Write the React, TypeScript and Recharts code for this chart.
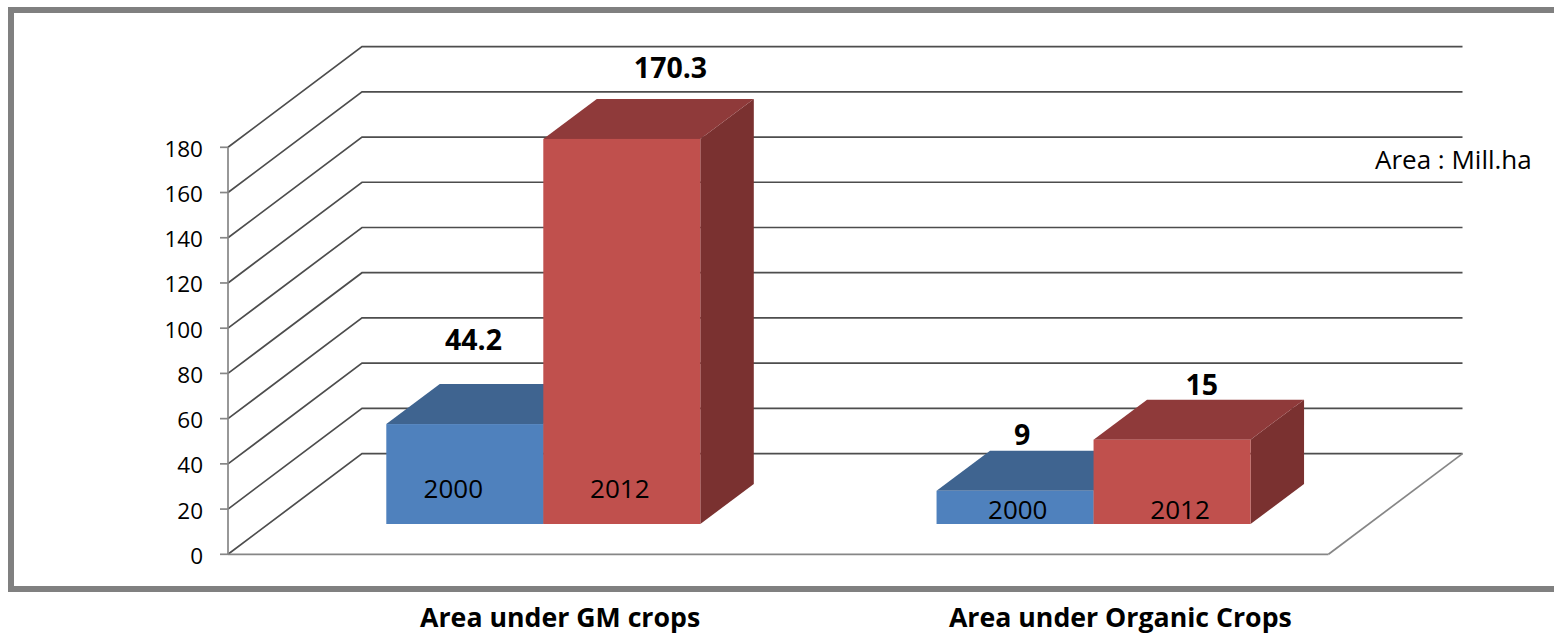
import React from "react";
import { BarChart, Bar, XAxis, YAxis, CartesianGrid, LabelList } from "recharts";

// Data. Heights are what the drawn bars measure on the axis;
// printed values are the labels written beside them in the reference.
const categories = ["Area under GM crops", "Area under Organic Crops"];
const height2000 = [44.2, 14.7];
const height2012 = [170.3, 37.3];
const printed2000 = ["44.2", "9"];
const printed2012 = ["170.3", "15"];
const yearLabel2000 = "2000";
const yearLabel2012 = "2012";
const yTicks = [0, 20, 40, 60, 80, 100, 120, 140, 160, 180];
const unitNote = "Area : Mill.ha";

const rows = categories.map((name, i) => ({
  name,
  y2000: height2000[i],
  y2012: height2012[i],
  p2000: printed2000[i],
  p2012: printed2012[i],
  l2000: yearLabel2000,
  l2012: yearLabel2012,
}));

// 3D projection
const WALL_DX = 134;
const WALL_DY = -100.7;
const BAR_SHIFT_X = 40.3;
const BAR_SHIFT_Y = -30.3;
const BAR_DX = 53.5;
const BAR_DY = -40;

const FONT = "'Open Sans', sans-serif";
const GRID = "#4d4d4d";
const AXIS = "#868686";

const makeBox = (front: string, top: string, side: string) => (p: any) => {
  const x = p.x + BAR_SHIFT_X;
  const y = p.y + BAR_SHIFT_Y;
  const w = p.width;
  const h = p.height;
  return (
    <g>
      <polygon
        points={`${x + w},${y} ${x + w + BAR_DX},${y + BAR_DY} ${x + w + BAR_DX},${y + h + BAR_DY} ${x + w},${y + h}`}
        fill={side}
      />
      <polygon
        points={`${x},${y} ${x + BAR_DX},${y + BAR_DY} ${x + w + BAR_DX},${y + BAR_DY} ${x + w},${y}`}
        fill={top}
      />
      <rect x={x} y={y} width={w} height={h} fill={front} />
    </g>
  );
};

const gridLine = (p: any) => {
  const { x1, x2, y1 } = p;
  const isFloor = Math.abs(y1 - (p.y + p.height)) < 1;
  return (
    <g key={p.key}>
      <polyline
        points={`${x1},${y1} ${x1 + WALL_DX},${y1 + WALL_DY} ${x2 + WALL_DX},${y1 + WALL_DY}`}
        fill="none"
        stroke={GRID}
        strokeWidth={1.7}
      />
      {isFloor ? (
        <line
          x1={x2}
          y1={y1}
          x2={x2 + WALL_DX}
          y2={y1 + WALL_DY}
          stroke={AXIS}
          strokeWidth={1.7}
        />
      ) : null}
    </g>
  );
};

const categoryShift = [57, 67];
const CategoryTick = (p: any) => (
  <text
    x={p.x + categoryShift[p.index]}
    y={p.y + 65}
    textAnchor="middle"
    fontFamily={FONT}
    fontWeight={700}
    fontSize={26.7}
    fill="#000"
  >
    {p.payload.value}
  </text>
);

const makeLabel =
  (offX: number[], offY: number[], size: number, weight: number, anchorBase: boolean) =>
  (p: any) => {
    const cx = p.x + BAR_SHIFT_X + p.width / 2 + offX[p.index];
    const base = anchorBase ? p.y + p.height : p.y;
    const cy = base + BAR_SHIFT_Y + offY[p.index];
    return (
      <text
        x={cx}
        y={cy}
        textAnchor="middle"
        dominantBaseline="central"
        fontFamily={FONT}
        fontSize={size}
        fontWeight={weight}
        fill="#000"
      >
        {p.value}
      </text>
    );
  };

export default function App() {
  return (
    <div
      style={{
        position: "absolute",
        left: 0,
        top: 0,
        width: 1554,
        height: 634,
        overflow: "hidden",
        background: "#fff",
      }}
    >
      <div
        style={{
          position: "absolute",
          left: 8,
          top: 7,
          width: 1546,
          height: 573,
          borderLeft: "6px solid #808080",
          borderTop: "6px solid #808080",
          borderBottom: "6px solid #808080",
          boxSizing: "content-box",
        }}
      />
      <div style={{ position: "absolute", left: 0, top: 0 }}>
        <BarChart
          width={1554}
          height={634}
          data={rows}
          barSize={157}
          barGap={0}
          margin={{ top: 147.3, right: 225.5, bottom: 19.7, left: 168 }}
        >
          <CartesianGrid vertical={false} horizontal={gridLine} />
          <XAxis
            dataKey="name"
            height={60}
            tickLine={false}
            axisLine={{ stroke: AXIS, strokeWidth: 1.7 }}
            tick={CategoryTick}
            interval={0}
          />
          <YAxis
            width={60}
            domain={[0, 180]}
            ticks={yTicks}
            interval={0}
            tickSize={8}
            tickMargin={17}
            axisLine={{ stroke: AXIS, strokeWidth: 1.7 }}
            tickLine={{ stroke: AXIS, strokeWidth: 1.7 }}
            tick={{ fontFamily: FONT, fontSize: 22.5, fill: "#000", dy: 1.5 }}
          />
          <Bar
            dataKey="y2000"
            isAnimationActive={false}
            shape={makeBox("#4F81BD", "#3F6490", "#385D8A")}
          >
            <LabelList dataKey="l2000" content={makeLabel([-11.5, 2.7], [-36, -15], 26, 400, true)} />
            <LabelList dataKey="p2000" content={makeLabel([8.7, 7], [-85, -57], 28.5, 700, false)} />
          </Bar>
          <Bar
            dataKey="y2012"
            isAnimationActive={false}
            shape={makeBox("#C0504D", "#8F3A3A", "#7A3130")}
          >
            <LabelList dataKey="l2012" content={makeLabel([-2, 8], [-36, -15], 26, 400, true)} />
            <LabelList dataKey="p2012" content={makeLabel([48.7, 29.7], [-72, -56], 28.5, 700, false)} />
          </Bar>
        </BarChart>
      </div>
      <div
        style={{
          position: "absolute",
          left: 1375,
          top: 141,
          fontFamily: FONT,
          fontSize: 26,
          lineHeight: "36px",
          color: "#000",
          whiteSpace: "nowrap",
        }}
      >
        {unitNote}
      </div>
    </div>
  );
}
